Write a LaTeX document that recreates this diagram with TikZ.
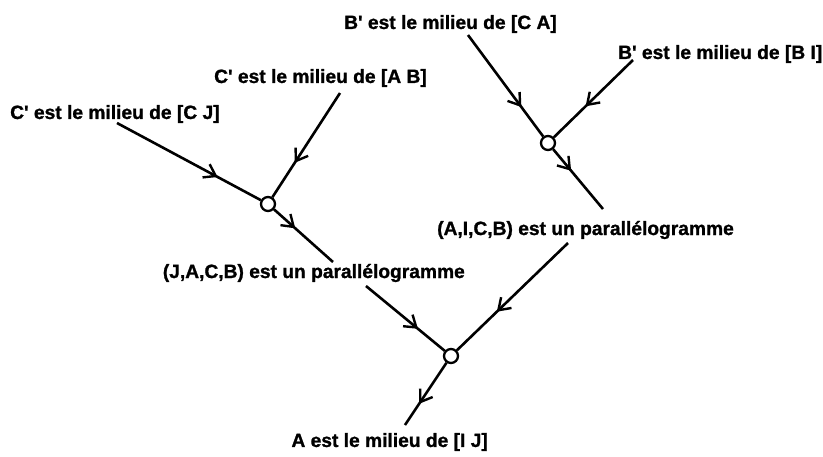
\documentclass[tikz,border=0pt]{standalone}
\usepackage{fontspec}
\newfontfamily\factfont{Liberation Sans}[BoldFeatures={FakeBold=1.2}]
\usetikzlibrary{arrows.meta,decorations.markings}

\tikzset{
  fact/.style={font=\factfont\fontsize{19.2}{21}\selectfont\bfseries, inner sep=0pt},
  knot/.style={circle, draw, line width=2.3pt, minimum size=14pt, inner sep=0pt, fill=white},
  link/.style={line width=2.6pt},
  midarrow/.style={postaction={decorate}, decoration={markings,
    mark=at position #1 with {\arrow{Straight Barb[length=11pt,width=15pt,line width=2.4pt]}}}}
}

\begin{document}
\begin{tikzpicture}[x=1pt, y=-1pt]
\useasboundingbox (0,0) rectangle (823,456);

% Junctions
\node[knot] (k1) at (268,204) {};
\node[knot] (k2) at (548,143) {};
\node[knot] (k3) at (451,356) {};

% Statements
\node[fact, anchor=west] (cj) at (10,114) {C' est le milieu de [C J]};
\node[fact, anchor=east] (ab) at (427,78) {C' est le milieu de [A B]};
\node[fact, anchor=east] (ca) at (557,24) {B' est le milieu de [C A]};
\node[fact, anchor=west] (bi) at (618,54) {B' est le milieu de [B I]};
\node[fact, anchor=east] (jacb) at (465,273) {(J,A,C,B) est un parallélogramme};
\node[fact, anchor=west] (aicb) at (437,230) {(A,I,C,B) est un parallélogramme};
\node[fact, anchor=east] (ij) at (488,442) {A est le milieu de [I J]};

% Line ends
\coordinate (cj-s) at (117,123);
\coordinate (ab-s) at (340,93);
\coordinate (ca-s) at (468,35);
\coordinate (bi-s) at (633,60);
\coordinate (jacb-n) at (333,262);
\coordinate (jacb-s) at (366,286);
\coordinate (aicb-n) at (603,209);
\coordinate (aicb-s) at (568,243);
\coordinate (ij-n) at (405,425);

% Connectors
\draw[link, midarrow=0.70] (cj-s) -- (k1);
\draw[link, midarrow=0.67] (ab-s) -- (k1);
\draw[link, midarrow=0.36] (k1) -- (jacb-n);
\draw[link, midarrow=0.71] (ca-s) -- (k2);
\draw[link, midarrow=0.60] (bi-s) -- (k2);
\draw[link, midarrow=0.36] (k2) -- (aicb-n);
\draw[link, midarrow=0.66] (jacb-s) -- (k3);
\draw[link, midarrow=0.64] (aicb-s) -- (k3);
\draw[link, midarrow=0.66] (k3) -- (ij-n);

\end{tikzpicture}
\end{document}
